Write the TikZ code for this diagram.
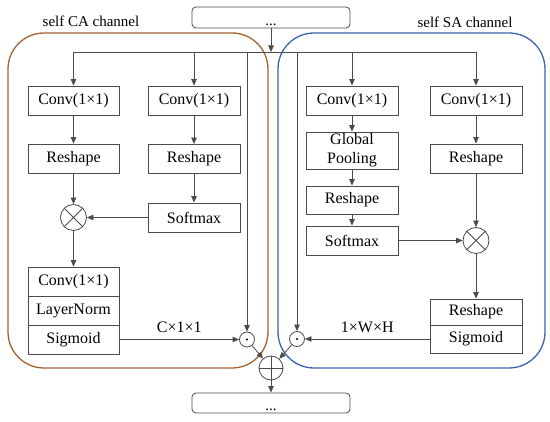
\documentclass[tikz,border=0pt]{standalone}
\usepackage{fontspec}
\setmainfont{Liberation Serif}
\usetikzlibrary{arrows.meta}
\definecolor{lineg}{RGB}{75,75,75}
\definecolor{caorange}{RGB}{166,98,48}
\definecolor{sablue}{RGB}{62,99,168}
\tikzset{
  blk/.style={draw=lineg, line width=0.8pt, fill=white, rectangle, inner sep=0pt,
    minimum width=92pt, minimum height=29pt, align=center, font=\fontsize{16}{19}\selectfont},
  opc/.style={draw=lineg, line width=0.8pt, fill=white, circle, inner sep=0pt},
  ln/.style={draw=lineg, line width=0.8pt},
  arr/.style={ln, -{Triangle[length=6.5pt,width=5.5pt]}},
  frame/.style={line width=1.3pt, rounded corners=36pt},
  lbl/.style={font=\fontsize{15}{16}\selectfont, inner sep=0pt},
  elbl/.style={font=\fontsize{16}{16}\selectfont, inner sep=0pt},
  endbox/.style={draw=lineg, line width=0.8pt, rounded corners=4pt, fill=white}
}
\begin{document}
\begin{tikzpicture}[x=1pt,y=-1pt]
\useasboundingbox (0,0) rectangle (550,422);
% frames
\draw[frame, draw=caorange] (8,33) rectangle (268,368);
\draw[frame, draw=sablue] (278,33) rectangle (545,368);
\node[lbl] (calbl) at (91,21) {self CA channel};
\node[lbl] (salbl) at (465,22) {self SA channel};
% top / bottom boxes
\node[endbox, minimum width=158pt, minimum height=21pt, inner sep=0pt] (top) at (271,17.5) {};
\node[lbl, anchor=base] (topdots) at (271,26) {...};
\node[endbox, minimum width=158pt, minimum height=20pt, inner sep=0pt] (bot) at (271,403) {};
\node[lbl, anchor=base] (botdots) at (271,410.5) {...};
\coordinate (j) at (271,52);
% CA blocks
\node[blk, minimum width=91pt] (conv1) at (73.5,100.5) {Conv(1×1)};
\node[blk] (conv2) at (194,100.5) {Conv(1×1)};
\node[blk, minimum width=91pt] (resh1) at (73.5,158.5) {Reshape};
\node[blk] (resh2) at (194,159) {Reshape};
\node[blk] (softCA) at (194,217.5) {Softmax};
\node[opc, minimum size=26pt] (mulCA) at (73.5,217.5) {};
\node[blk, minimum width=91pt] (convCA) at (73.5,281.5) {Conv(1×1)};
\node[blk, minimum width=91pt] (lnCA) at (73.5,310.5) {LayerNorm};
\node[blk, minimum width=91pt] (sigCA) at (73.5,339.5) {Sigmoid};
\node[opc, minimum size=15pt] (dotCA) at (247,339.5) {};
% SA blocks
\node[blk] (conv3) at (352,100.5) {Conv(1×1)};
\node[blk, minimum height=37pt] (gp) at (352,150.5) {Global\\Pooling};
\node[blk, minimum height=28pt] (resh3) at (352,200) {Reshape};
\node[blk] (softSA) at (352,240.5) {Softmax};
\node[blk] (conv4) at (476,100.5) {Conv(1×1)};
\node[blk] (resh4) at (476,158.5) {Reshape};
\node[opc, minimum size=26pt] (mulSA) at (476,240.5) {};
\node[blk, minimum height=26pt] (reshSA) at (476,312) {Reshape};
\node[blk, minimum height=28pt] (sigSA) at (476,339) {Sigmoid};
\node[opc, minimum size=15pt] (dotSA) at (297,339) {};
\node[opc, minimum size=24pt] (plus) at (271,368) {};
% symbols inside operators
\draw[ln] (mulCA.north west) -- (mulCA.south east) (mulCA.north east) -- (mulCA.south west);
\draw[ln] (mulSA.north west) -- (mulSA.south east) (mulSA.north east) -- (mulSA.south west);
\draw[ln] (plus.north) -- (plus.south) (plus.west) -- (plus.east);
\fill[black] (dotCA) circle (1.1pt);
\fill[black] (dotSA) circle (1.1pt);
% input bus
\draw[arr] (top.south) -- (j);
\draw[ln] (conv1.north |- j) -- (conv4.north |- j);
\draw[arr] (conv1.north |- j) -- (conv1.north);
\draw[arr] (conv2.north |- j) -- (conv2.north);
\draw[arr] (conv3.north |- j) -- (conv3.north);
\draw[arr] (conv4.north |- j) -- (conv4.north);
\draw[arr] (dotCA.north |- j) -- (dotCA.north);
\draw[arr] (dotSA.north |- j) -- (dotSA.north);
% CA flow
\draw[arr] (conv1) -- (resh1);
\draw[arr] (resh1) -- (mulCA);
\draw[arr] (conv2) -- (resh2);
\draw[arr] (resh2) -- (softCA);
\draw[arr] (softCA.west) -- (mulCA.east);
\draw[arr] (mulCA) -- (convCA);
\draw[arr] (sigCA.east) -- node[elbl, above=6pt] {C×1×1} (dotCA.west);
% SA flow
\draw[arr] (conv3) -- (gp);
\draw[arr] (gp) -- (resh3);
\draw[arr] (resh3) -- (softSA);
\draw[arr] (softSA.east) -- (mulSA.west);
\draw[arr] (conv4) -- (resh4);
\draw[arr] (resh4) -- (mulSA);
\draw[arr] (mulSA) -- (reshSA);
\draw[arr] (sigSA.west) -- node[elbl, above=6pt] {1×W×H} (dotSA.east);
% merge
\draw[arr] (dotCA) -- (plus);
\draw[arr] (dotSA) -- (plus);
\draw[arr] (plus) -- (bot);
\end{tikzpicture}
\end{document}
